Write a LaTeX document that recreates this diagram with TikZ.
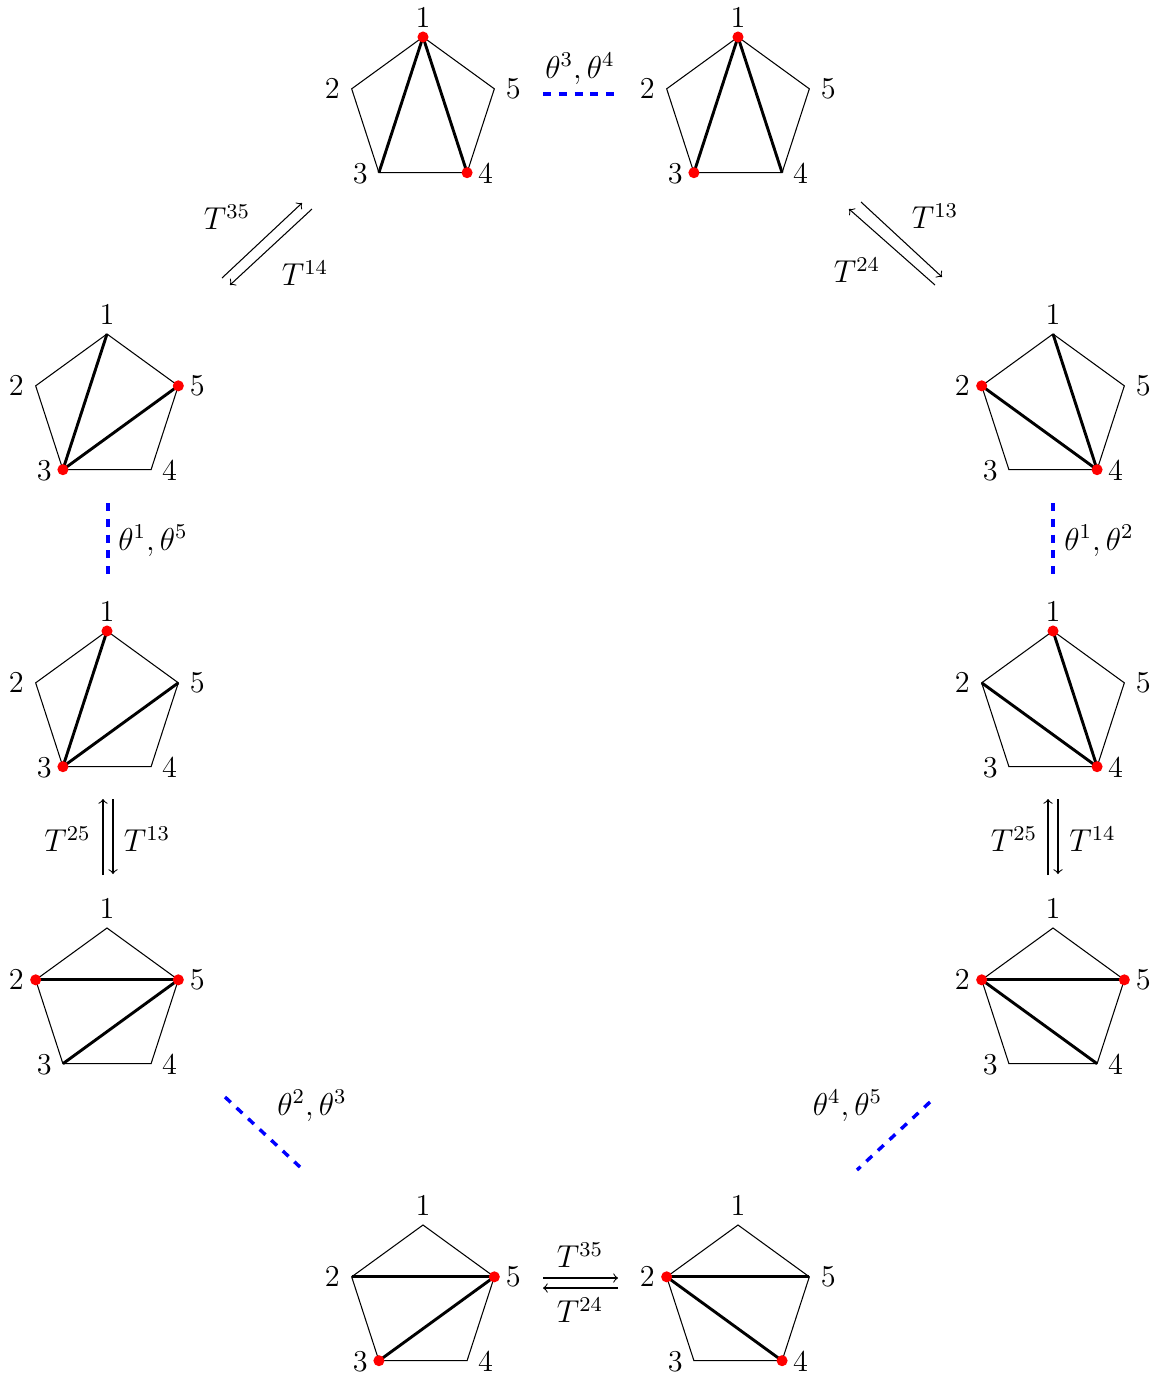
\documentclass[tikz,border=0pt]{standalone}
\usetikzlibrary{calc}
\tikzset{
  pedge/.style={line width=0.4pt,black},
  bond/.style={line width=1.1pt,black},
  dot/.style={fill=red},
  vlab/.style={inner sep=0pt,anchor=center,font=\fontsize{11.5}{14}\selectfont},
  tlab/.style={inner sep=0pt,anchor=center,font=\fontsize{11.5}{14}\selectfont},
  arr/.style={->,line width=0.4pt},
  bluedash/.style={blue,dashed,line width=1.3pt}
}
\newcommand{\pentdraw}[5]{%
  \begin{scope}[shift={(#2,#3)}]
    \coordinate (#1-1) at (0,-75);
    \coordinate (#1-2) at (-71.33,-23.18);
    \coordinate (#1-3) at (-44.08,60.68);
    \coordinate (#1-4) at (44.08,60.68);
    \coordinate (#1-5) at (71.33,-23.18);
    \draw[pedge] (#1-1)--(#1-2)--(#1-3)--(#1-4)--(#1-5)--cycle;
    \foreach \p/\q in {#4} {\draw[bond] (#1-\p)--(#1-\q);}
    \foreach \p in {#5} {\fill[dot] (#1-\p) circle[radius=2.1pt];}
    \node[vlab] (#1-l1) at (0,-95) {1};
    \node[vlab] (#1-l2) at (-90.8,-23.2) {2};
    \node[vlab] (#1-l3) at (-62.6,61.7) {3};
    \node[vlab] (#1-l4) at (62.6,61.7) {4};
    \node[vlab] (#1-l5) at (90.3,-23.2) {5};
  \end{scope}}
\begin{document}
\begin{tikzpicture}[x=0.0133333cm,y=-0.0133333cm]
\useasboundingbox (0,0) rectangle (1160,1376);
% pentagons
\pentdraw{pA}{423}{112}{1/3,1/4}{1,4}
\pentdraw{pB}{738}{112}{1/3,1/4}{1,3}
\pentdraw{pC}{107}{409}{1/3,3/5}{3,5}
\pentdraw{pD}{1053}{409}{1/4,2/4}{2,4}
\pentdraw{pE}{107}{706}{1/3,3/5}{1,3}
\pentdraw{pF}{1053}{706}{1/4,2/4}{1,4}
\pentdraw{pG}{107}{1003}{2/5,3/5}{2,5}
\pentdraw{pH}{1053}{1003}{2/5,2/4}{2,5}
\pentdraw{pI}{423}{1300}{2/5,3/5}{3,5}
\pentdraw{pJ}{738}{1300}{2/5,2/4}{2,4}
% connector end points
\coordinate (a1s) at (222,278); \coordinate (a1e) at (302,203);
\coordinate (a1t) at (312,209); \coordinate (a1f) at (230,285);
\coordinate (a2s) at (861,202); \coordinate (a2e) at (942,277);
\coordinate (a2t) at (935,285); \coordinate (a2f) at (849,209);
\coordinate (a3s) at (103,875); \coordinate (a3e) at (103,799);
\coordinate (a3t) at (113,799); \coordinate (a3f) at (113,874);
\coordinate (a4s) at (1048,875); \coordinate (a4e) at (1048,799);
\coordinate (a4t) at (1058,799); \coordinate (a4f) at (1058,874);
\coordinate (a5s) at (543,1278); \coordinate (a5e) at (618,1278);
\coordinate (a5t) at (618,1288); \coordinate (a5f) at (543,1288);
\coordinate (d1s) at (543,94); \coordinate (d1e) at (615,94);
\coordinate (d2s) at (108,503); \coordinate (d2e) at (108,574);
\coordinate (d3s) at (1053,503); \coordinate (d3e) at (1053,574);
\coordinate (d4s) at (225,1097); \coordinate (d4e) at (300,1167);
\coordinate (d5s) at (930,1102); \coordinate (d5e) at (857,1170);
% arrows
\draw[arr] (a1s) -- (a1e);
\draw[arr] (a1t) -- (a1f);
\draw[arr] (a2s) -- (a2e);
\draw[arr] (a2t) -- (a2f);
\draw[arr] (a3s) -- (a3e);
\draw[arr] (a3t) -- (a3f);
\draw[arr] (a4s) -- (a4e);
\draw[arr] (a4t) -- (a4f);
\draw[arr] (a5s) -- (a5e);
\draw[arr] (a5t) -- (a5f);
% dashed
\draw[bluedash] (d1s) -- (d1e);
\draw[bluedash] (d2s) -- (d2e);
\draw[bluedash] (d3s) -- (d3e);
\draw[bluedash] (d4s) -- (d4e);
\draw[bluedash] (d5s) -- (d5e);
% labels
\node[tlab] (t1) at (227,217) {$T^{35}$};
\node[tlab] (t2) at (305,273) {$T^{14}$};
\node[tlab] (t3) at (935,216) {$T^{13}$};
\node[tlab] (t4) at (857,270) {$T^{24}$};
\node[tlab] (t5) at (67.5,839) {$T^{25}$};
\node[tlab] (t6) at (147,839) {$T^{13}$};
\node[tlab] (t7) at (1014,839) {$T^{25}$};
\node[tlab] (t8) at (1092.5,839) {$T^{14}$};
\node[tlab] (t9) at (580,1255) {$T^{35}$};
\node[tlab] (t10) at (580,1310) {$T^{24}$};
\node[tlab] (h1) at (580,69) {$\theta^3,\theta^4$};
\node[tlab] (h2) at (153,541) {$\theta^1,\theta^5$};
\node[tlab] (h3) at (1099,541) {$\theta^1,\theta^2$};
\node[tlab] (h4) at (312,1106) {$\theta^2,\theta^3$};
\node[tlab] (h5) at (847.5,1106) {$\theta^4,\theta^5$};
\end{tikzpicture}
\end{document}
